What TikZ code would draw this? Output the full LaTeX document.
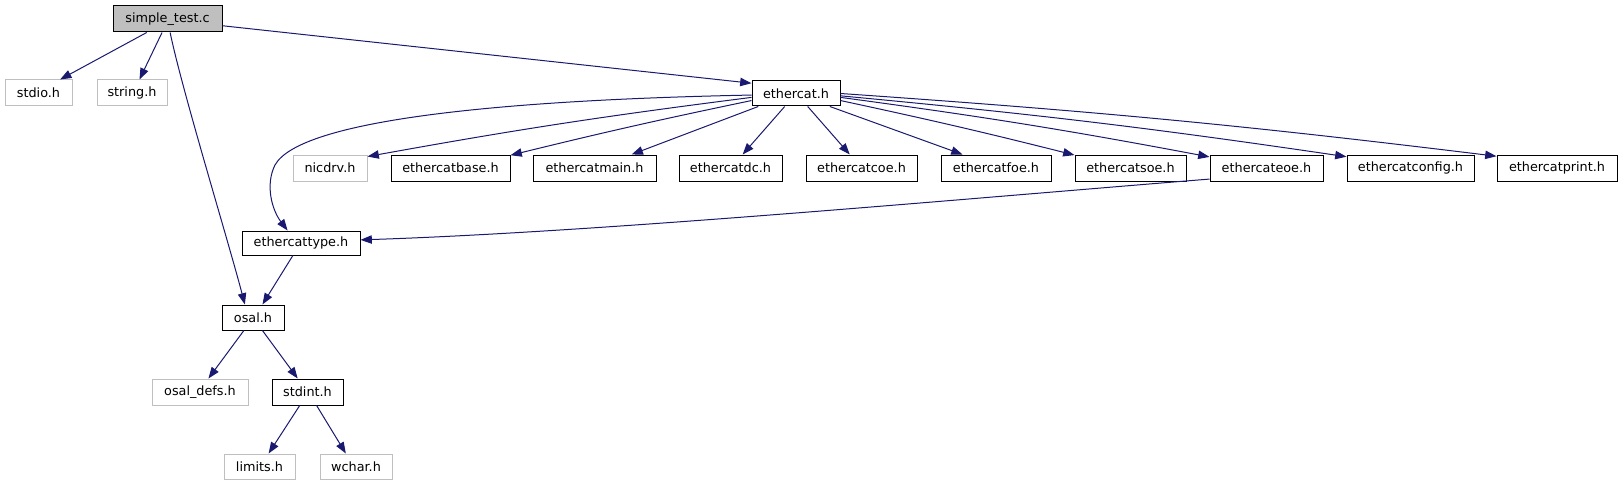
\documentclass[tikz,border=0pt]{standalone}
\usepackage{fontspec}
\setmainfont{DejaVu Sans}
\usetikzlibrary{arrows.meta}
\definecolor{edgeblue}{HTML}{191970}
\definecolor{greyline}{HTML}{BFBFBF}
\tikzset{
  box/.style={draw=black, line width=0.75pt, inner sep=0pt, minimum height=19pt,
    font=\fontsize{9.6}{11}\selectfont, fill=white},
  gbox/.style={box, draw=greyline},
  edge/.style={draw=edgeblue, line width=0.75pt,
    -{Triangle[length=8.5pt,width=6.3pt]}},
}
\begin{document}
\begin{tikzpicture}[x=0.75pt,y=-0.75pt]
\useasboundingbox (0,0) rectangle (1622,485);
% nodes
\node[box, fill=greyline, minimum width=109*0.75pt, minimum height=26*0.75pt] (st) at (167.5,19) {simple\_test.c};
\node[gbox, minimum width=67*0.75pt, minimum height=26*0.75pt] (stdio) at (38.5,93) {stdio.h};
\node[gbox, minimum width=70*0.75pt, minimum height=26*0.75pt] (string) at (132,93) {string.h};
\node[box, minimum width=88*0.75pt, minimum height=25*0.75pt] (et) at (796,93.5) {ethercat.h};
\node[gbox, minimum width=74*0.75pt, minimum height=26*0.75pt] (nic) at (330,168) {nicdrv.h};
\node[box, minimum width=119*0.75pt, minimum height=26*0.75pt] (base) at (450.5,168) {ethercatbase.h};
\node[box, minimum width=123*0.75pt, minimum height=26*0.75pt] (main) at (594.5,168) {ethercatmain.h};
\node[box, minimum width=103*0.75pt, minimum height=26*0.75pt] (dc) at (730.5,168) {ethercatdc.h};
\node[box, minimum width=111*0.75pt, minimum height=26*0.75pt] (coe) at (861.5,168) {ethercatcoe.h};
\node[box, minimum width=110*0.75pt, minimum height=26*0.75pt] (foe) at (996,168) {ethercatfoe.h};
\node[box, minimum width=111*0.75pt, minimum height=26*0.75pt] (soe) at (1130.5,168) {ethercatsoe.h};
\node[box, minimum width=113*0.75pt, minimum height=26*0.75pt] (eoe) at (1266.5,168) {ethercateoe.h};
\node[box, minimum width=127*0.75pt, minimum height=26*0.75pt] (cfg) at (1410.5,168) {ethercatconfig.h};
\node[box, minimum width=120*0.75pt, minimum height=26*0.75pt] (prt) at (1557,168) {ethercatprint.h};
\node[box, minimum width=118*0.75pt, minimum height=24*0.75pt] (tt) at (301,243) {ethercattype.h};
\node[box, minimum width=62*0.75pt, minimum height=25*0.75pt] (osal) at (253,317.5) {osal.h};
\node[gbox, minimum width=96*0.75pt, minimum height=26*0.75pt] (defs) at (200,392) {osal\_defs.h};
\node[box, minimum width=71*0.75pt, minimum height=26*0.75pt] (stdint) at (307.5,392) {stdint.h};
\node[gbox, minimum width=71*0.75pt, minimum height=25*0.75pt] (limits) at (259.5,466.5) {limits.h};
\node[gbox, minimum width=72*0.75pt, minimum height=25*0.75pt] (wchar) at (356,466.5) {wchar.h};
% edges
\draw[edge] (st.-147.6) -- (stdio.32.4);
\draw[edge] (st.-112.9) -- (string.61.7);
\draw[edge] (st.-79.1) .. controls (182,90) and (228,240) .. (osal.122.6);
\draw[edge] (st.-7.3) -- (et.167.8);
\draw[edge] (et.-178) .. controls (500,100) and (300,120) .. (275,165) .. controls (265,185) and (272,210) .. (tt.137.3);
\draw[edge] (et.-175.5) to[bend right=1.5] (nic.17);
\draw[edge] (et.-171.6) to[bend right=1] (base.12.7);
\draw[edge] (et.-161.8) -- (main.20.1);
\draw[edge] (et.-131.3) -- (dc.48.5);
\draw[edge] (et.-48.7) -- (coe.131.5);
\draw[edge] (et.-21.3) -- (foe.158.5);
\draw[edge] (et.-9.7) to[bend left=1] (soe.167.8);
\draw[edge] (et.-5.8) to[bend left=1.5] (eoe.169);
\draw[edge] (et.-3.3) to[bend left=1.5] (cfg.170.2);
\draw[edge] (et.-0.7) to[bend left=1.5] (prt.169.6);
\draw[edge] (eoe.-169) .. controls (950,200) and (600,232) .. (tt.3.9);
\draw[edge] (tt.-123.7) -- (osal.54.2);
\draw[edge] (osal.-125.8) -- (defs.58.4);
\draw[edge] (osal.-54.2) -- (stdint.126.2);
\draw[edge] (stdint.-120) -- (limits.55.8);
\draw[edge] (stdint.-56.8) -- (wchar.128.7);
\end{tikzpicture}
\end{document}
